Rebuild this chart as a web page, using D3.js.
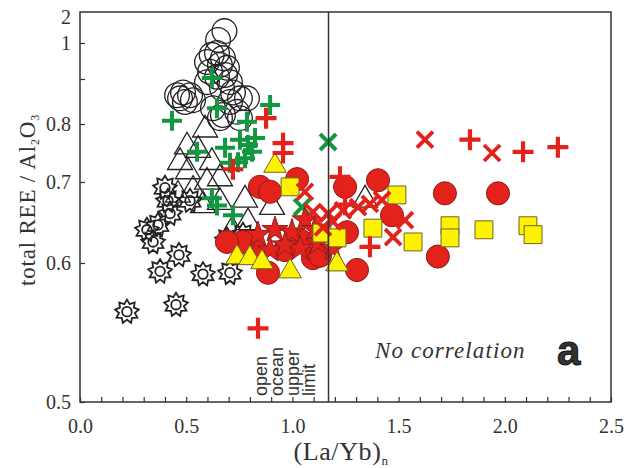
<!DOCTYPE html>
<html>
<head>
<meta charset="utf-8">
<script src="https://cdn.jsdelivr.net/npm/d3@7/dist/d3.min.js"></script>
<style>
  body { margin: 0; background: #fff; }
  text { fill: #333; }
</style>
</head>
<body>
<svg id="chart" width="635" height="468"></svg>
<script>
// values: [ (La/Yb)n , total REE / Al2O3 ]
const openSuns = [[0.221,0.565],[0.452,0.57],[0.377,0.594],[0.466,0.61],[0.579,0.592],[0.706,0.593],
  [0.692,0.629],[0.767,0.635],[0.315,0.641],[0.344,0.626],[0.4,0.693],[0.414,0.677],[0.424,0.661],
  [0.367,0.647],[0.518,0.677]];
const openTriangles = [[0.589,0.79],[0.504,0.761],[0.556,0.755],[0.471,0.734],[0.508,0.718],[0.621,0.734],
  [0.659,0.706],[0.598,0.7],[0.461,0.684],[0.532,0.69],[0.579,0.671],[0.659,0.675],[0.777,0.678],
  [0.904,0.669],[0.791,0.65],[0.716,0.64],[1.342,0.678]];
const openCircles = [[0.68,1.46],[0.65,1.12],[0.62,0.967],[0.645,0.972],[0.673,0.958],[0.598,0.947],
  [0.659,0.939],[0.692,0.931],[0.612,0.92],[0.645,0.906],[0.683,0.911],[0.706,0.893],[0.598,0.893],
  [0.669,0.879],[0.72,0.87],[0.753,0.857],[0.786,0.857],[0.485,0.87],[0.457,0.864],[0.518,0.864],
  [0.494,0.849],[0.532,0.853],[0.471,0.857],[0.626,0.835],[0.673,0.82],[0.739,0.827],[0.659,0.813],
  [0.753,0.813],[0.706,0.849]];
const greenPlus = [[0.621,0.903],[0.433,0.807],[0.645,0.835],[0.895,0.842],[0.786,0.805],[0.551,0.752],
  [0.683,0.759],[0.753,0.773],[0.791,0.764],[0.81,0.752],[0.777,0.741],[0.744,0.734],[0.824,0.776],
  [0.706,0.733],[0.645,0.671],[0.72,0.659],[0.621,0.68]];
const greenCross = [[1.168,0.769],[1.045,0.669]];
const redCircles = [[0.847,0.694],[1.022,0.705],[0.895,0.688],[1.248,0.694],[1.403,0.703],[1.469,0.659],
  [1.718,0.686],[1.968,0.686],[1.257,0.638],[1.685,0.608],[1.304,0.595],[0.885,0.593],[1.097,0.606],
  [1.036,0.628],[0.824,0.616],[0.767,0.626],[0.692,0.626],[0.965,0.616],[1.13,0.609]];
const redStars = [[0.838,0.635],[0.918,0.641],[0.998,0.638],[1.059,0.653],[1.106,0.641],[1.036,0.618],
  [1.121,0.625],[1.191,0.618],[0.895,0.616],[0.965,0.622]];
const yellowTriangles = [[0.918,0.728],[0.739,0.607],[0.8,0.606],[0.857,0.601],[0.989,0.594],[1.21,0.599]];
const yellowSquares = [[0.989,0.694],[1.492,0.684],[1.379,0.643],[1.568,0.626],[1.742,0.646],[1.742,0.631],
  [1.902,0.641],[2.109,0.646],[2.133,0.635],[1.139,0.637],[1.21,0.631]];
const redCross = [[1.624,0.773],[1.94,0.75],[1.059,0.688],[1.097,0.663],[1.168,0.661],[1.238,0.665],
  [1.309,0.669],[1.365,0.673],[1.422,0.678],[1.53,0.653],[1.474,0.632],[1.144,0.644],[1.191,0.651]];
const redPlus = [[0.838,0.553],[0.876,0.813],[0.956,0.767],[0.956,0.75],[0.72,0.722],[1.224,0.709],
  [1.248,0.672],[1.365,0.62],[1.836,0.773],[2.086,0.752],[2.25,0.76]];

const xTicks = d3.range(0, 26).map(i => i / 10);
const yTicks = [0.5, 0.6, 0.7, 0.8, 0.9, 1, 2];
const upperLimit = 1.17;

const svg = d3.select("#chart");
const plotLeft = 80, plotRight = 611, plotTop = 12, plotBottom = 402;
const serif = "'Liberation Serif', 'Times New Roman', serif";
const sans = "'Liberation Sans', Arial, sans-serif";

const xScale = d3.scaleLinear().domain([0, 2.5]).range([plotLeft, plotRight]);
// the y axis of the original is not linear; piecewise stops follow its tick positions
const yScale = d3.scaleLinear()
  .domain([0.5, 0.6, 0.7, 0.8, 0.9, 1, 2.2])
  .range([plotBottom, 263, 182, 124, 79, 43, plotTop]);

const red = "#e3221b", redEdge = "#8e1c17", green = "#12983f", yellow = "#fff200", yellowEdge = "#6a6528", ink = "#222";

// Add X Axis
const gx = svg.append("g")
  .attr("transform", `translate(0, ${plotBottom})`)
  .call(d3.axisBottom(xScale).tickValues(xTicks).tickSize(-5).tickPadding(17)
    .tickFormat(d => (Math.round(d * 10) % 5 === 0 ? d3.format(".1f")(d) : "")));

// Add Y Axis
const gy = svg.append("g")
  .attr("transform", `translate(${plotLeft}, 0)`)
  .call(d3.axisLeft(yScale).tickValues(yTicks).tickSize(-5).tickPadding(9)
    .tickFormat(d => (d === 0.9 ? "" : d)));
gy.selectAll(".tick").filter(d => d === 2).select("line").remove();

[gx, gy].forEach(g => {
  g.attr("font-family", serif).attr("font-size", 20);
  g.select(".domain").remove();
  g.selectAll("line").attr("stroke", "#333").attr("stroke-width", 1.2);
  g.selectAll("text").attr("font-family", serif).attr("fill", "#333");
});

const pos = d => `translate(${xScale(d[0])},${yScale(d[1])})`;

const plusPath = h => { const p = d3.path(); p.moveTo(-h, 0); p.lineTo(h, 0); p.moveTo(0, -h); p.lineTo(0, h); return p.toString(); };
const crossPath = h => { const p = d3.path(); p.moveTo(-h, -h); p.lineTo(h, h); p.moveTo(-h, h); p.lineTo(h, -h); return p.toString(); };
const sunPts = d3.range(18).map(i => [i * Math.PI / 9, i % 2 ? 8 : 12]);
const sunPath = d3.lineRadial().curve(d3.curveLinearClosed)(sunPts);

const marks = svg.append("g");

function draw(data, path, fill, stroke, width) {
  marks.append("g").selectAll("path").data(data).enter().append("path")
    .attr("transform", pos).attr("d", path)
    .attr("fill", fill).attr("stroke", stroke).attr("stroke-width", width);
}

// open sun symbols
const suns = marks.append("g").selectAll("g").data(openSuns).enter().append("g").attr("transform", pos);
suns.append("path").attr("d", sunPath).attr("fill", "none").attr("stroke", ink).attr("stroke-width", 1.8);
suns.append("circle").attr("r", 4.8).attr("fill", "none").attr("stroke", ink).attr("stroke-width", 1.8);

draw(openTriangles, d3.symbol(d3.symbolTriangle, 270)(), "none", ink, 1.3);
draw(openCircles, d3.symbol(d3.symbolCircle, 480)(), "none", ink, 1.3);
draw(greenPlus, plusPath(10), "none", green, 4);
draw(greenCross, crossPath(8), "none", green, 4);
draw(redCircles, d3.symbol(d3.symbolCircle, 420)(), red, redEdge, 1);
draw(redStars, d3.symbol(d3.symbolStar, 210)(), red, redEdge, 1);
draw(yellowTriangles, d3.symbol(d3.symbolTriangle, 220)(), yellow, yellowEdge, 1);
draw(yellowSquares, d3.symbol(d3.symbolSquare, 320)(), yellow, yellowEdge, 1);
draw(redCross, crossPath(8), "none", red, 3.8);
draw(redPlus, plusPath(10.5), "none", red, 4.2);

// open ocean upper limit line
svg.append("line")
  .attr("x1", xScale(upperLimit)).attr("x2", xScale(upperLimit))
  .attr("y1", plotTop).attr("y2", plotBottom)
  .attr("stroke", "#333").attr("stroke-width", 1.5);

// frame
svg.append("rect")
  .attr("x", plotLeft).attr("y", plotTop).attr("width", plotRight - plotLeft).attr("height", plotBottom - plotTop)
  .attr("fill", "none").attr("stroke", "#333").attr("stroke-width", 1.5);

// rotated note
["open", "ocean", "upper", "limit"].forEach((w, i) => {
  svg.append("text")
    .attr("transform", `translate(${267 + i * 16}, 396) rotate(-90)`)
    .attr("font-family", sans)
    .attr("font-size", 18)
    .attr("fill", "#222")
    .text(w);
});

svg.append("text")
  .attr("x", 375).attr("y", 358)
  .attr("font-family", serif)
  .attr("font-style", "italic")
  .attr("font-size", 23)
  .attr("letter-spacing", 1.1)
  .text("No correlation");

svg.append("text")
  .attr("x", 557).attr("y", 365)
  .attr("font-family", sans)
  .attr("font-weight", "bold")
  .attr("font-size", 42)
  .attr("fill", "#111")
  .attr("stroke", "#111")
  .attr("stroke-width", 1)
  .text("a");

// Add X Axis Label
const xl = svg.append("text")
  .attr("x", 341).attr("y", 460)
  .attr("text-anchor", "middle")
  .attr("font-family", serif)
  .attr("font-size", 26)
  .attr("letter-spacing", 0.6);
xl.append("tspan").text("(La/Yb)");
xl.append("tspan").attr("dy", 5).attr("font-size", 13).text("n");

// Add Y Axis Label
const yl = svg.append("text")
  .attr("transform", "translate(35, 200) rotate(-90)")
  .attr("text-anchor", "middle")
  .attr("font-family", serif)
  .attr("font-size", 23)
  .attr("letter-spacing", 0.8);
yl.append("tspan").text("total REE / Al");
yl.append("tspan").attr("dy", 4).attr("font-size", 12).text("2");
yl.append("tspan").attr("dy", -4).text("O");
yl.append("tspan").attr("dy", 4).attr("font-size", 12).text("3");
</script>
</body>
</html>
